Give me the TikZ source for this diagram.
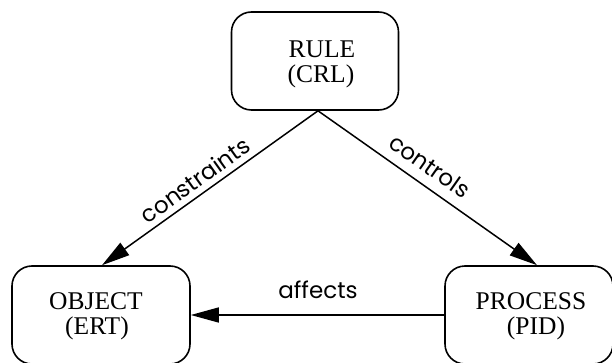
\documentclass[tikz,border=0pt]{standalone}
\usepackage{fontspec}
\setmainfont{Liberation Serif}
\newfontfamily\labelfont{Poppins}
\usetikzlibrary{arrows.meta,calc}
\tikzset{
  entity/.style={draw, line width=1.6pt, rounded corners=20pt, inner sep=0pt,
    minimum height=98pt},
  entitytext/.style={font=\fontsize{25.5}{25}\selectfont, inner sep=0pt, anchor=base},
  link/.style={line width=1.5pt, -{Triangle[length=28pt,width=15pt]}},
  edgelabel/.style={font=\labelfont\fontsize{23}{25}\selectfont, inner sep=0pt}
}
\begin{document}
\begin{tikzpicture}[x=1pt,y=-1pt]
  \useasboundingbox (0,0) rectangle (612,363);
  \clip (0,0) rectangle (612,363);
  % the three entity boxes
  \node[entity, minimum width=167pt] (rule) at (315,61) {};
  \node[entity, minimum width=178pt] (object) at (101,315) {};
  \node[entity, minimum width=168pt] (process) at (529,315) {};
  % their names and identifiers
  \node[entitytext] (ruleA) at (322,58) {RULE};
  \node[entitytext] (ruleB) at (321,83) {(CRL)};
  \node[entitytext] (objA) at (96,309) {OBJECT};
  \node[entitytext] (objB) at (97,334) {(ERT)};
  \node[entitytext] (procA) at (531,309) {PROCESS};
  \node[entitytext] (procB) at (536,334) {(PID)};
  % attachment points
  \coordinate (apex) at ($(rule.south)+(3,0)$);
  \coordinate (objtop) at ($(object.north)+(1,0)$);
  \coordinate (proctop) at ($(process.north)+(8,0)$);
  % relations
  \draw[link] (apex) -- (objtop);
  \draw[link] (apex) -- (proctop);
  \draw[link] (process.west) -- (object.east);
  % relation labels
  \node[edgelabel, rotate=35.5] (lcons) at (195,180) {constraints};
  \node[edgelabel, rotate=-35.1] (lctrl) at (430,166) {controls};
  \node[edgelabel, anchor=base] (laff) at (318,298) {affects};
\end{tikzpicture}
\end{document}
